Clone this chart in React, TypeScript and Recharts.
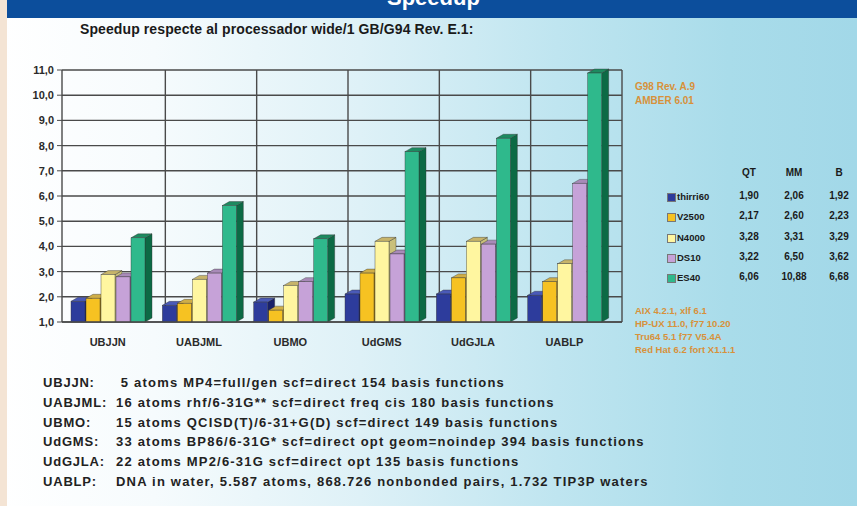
import React from "react";
import { BarChart, Bar, XAxis, YAxis, CartesianGrid } from "recharts";

const categories = ["UBJJN", "UABJML", "UBMO", "UdGMS", "UdGJLA", "UABLP"];
const seriesNames = ["thirri60", "V2500", "N4000", "DS10", "ES40"];
const thirri60 = [1.82, 1.66, 1.79, 2.11, 2.11, 2.06];
const v2500 = [1.94, 1.74, 1.47, 2.94, 2.75, 2.6];
const n4000 = [2.88, 2.69, 2.45, 4.2, 4.2, 3.31];
const ds10 = [2.79, 2.94, 2.6, 3.7, 4.09, 6.5];
const es40 = [4.34, 5.62, 4.3, 7.76, 8.29, 10.88];
const yTicks = [1, 2, 3, 4, 5, 6, 7, 8, 9, 10, 11];

const tableHeaders = ["QT", "MM", "B"];
const qtAvg = ["1,90", "2,17", "3,28", "3,22", "6,06"];
const mmVal = ["2,06", "2,60", "3,31", "6,50", "10,88"];
const bAvg = ["1,92", "2,23", "3,29", "3,62", "6,68"];

const softwareTop = ["G98 Rev. A.9", "AMBER 6.01"];
const platforms = [
  "AIX 4.2.1, xlf 6.1",
  "HP-UX 11.0, f77 10.20",
  "Tru64 5.1 f77 V5.4A",
  "Red Hat 6.2 fort X1.1.1",
];
const testLabels = ["UBJJN:", "UABJML:", "UBMO:", "UdGMS:", "UdGJLA:", "UABLP:"];
const testDescriptions = [
  "\u00a05 atoms MP4=full/gen scf=direct 154 basis functions",
  "16 atoms rhf/6-31G** scf=direct freq cis 180 basis functions",
  "15 atoms QCISD(T)/6-31+G(D) scf=direct 149 basis functions",
  "33 atoms BP86/6-31G* scf=direct opt geom=noindep 394 basis functions",
  "22 atoms MP2/6-31G scf=direct opt 135 basis functions",
  "DNA in water, 5.587 atoms, 868.726 nonbonded pairs, 1.732 TIP3P waters",
];
const title = "Speedup respecte al processador wide/1 GB/G94 Rev. E.1:";
const bannerText = "Speedup";

const palette = [
  { front: "#2d3c9c", side: "#18206a", top: "#4a5ab8" },
  { front: "#f6c222", side: "#b0850c", top: "#cfae48" },
  { front: "#fff6a0", side: "#c9c07a", top: "#c7b46a" },
  { front: "#c6a2d8", side: "#8a6a9e", top: "#a88ab8" },
  { front: "#2fb98c", side: "#0c6a45", top: "#1d8a60" },
];
const seriesData = [thirri60, v2500, n4000, ds10, es40];

const data = categories.map((c, i) => {
  const row: any = { name: c };
  seriesNames.forEach((s, j) => {
    row[s] = seriesData[j][i];
  });
  return row;
});

const DX = 7;
const DY = 4;
const WALL = 12;

const make3D = (c: { front: string; side: string; top: string }) => (props: any) => {
  const { x, y, width, height } = props;
  if (width == null || height == null || height <= 0) return <g />;
  const r = x + width;
  const b = y + height;
  return (
    <g>
      <polygon
        points={`${r},${y} ${r + DX},${y - DY} ${r + DX},${b - DY} ${r},${b}`}
        fill={c.side}
        stroke="#333"
        strokeWidth={0.4}
      />
      <polygon
        points={`${x},${y} ${x + DX},${y - DY} ${r + DX},${y - DY} ${r},${y}`}
        fill={c.top}
        stroke="#333"
        strokeWidth={0.4}
      />
      <rect x={x} y={y} width={width} height={height} fill={c.front} stroke="#333" strokeWidth={0.4} />
    </g>
  );
};

const FONT = "'Liberation Sans', Arial, sans-serif";

export default function App() {
  return (
    <div
      style={{
        position: "absolute",
        left: 0,
        top: 0,
        width: 857,
        height: 506,
        overflow: "hidden",
        fontFamily: FONT,
        background:
          "linear-gradient(to right, #ffffff 0%, #f6fbfd 18%, #def1f7 42%, #bfe5f0 65%, #a9dcea 85%, #a2d8e8 100%)",
      }}
    >
      <div style={{ position: "absolute", left: 0, top: 0, width: 7, height: 506, background: "#f4e4d4" }} />
      <div
        style={{
          position: "absolute",
          left: 7,
          top: 0,
          width: 850,
          height: 18,
          background: "#0c4e9c",
          overflow: "hidden",
        }}
      >
        <div
          style={{
            position: "absolute",
            left: 380,
            top: -15,
            color: "#ffffff",
            fontWeight: 700,
            fontSize: 22,
            whiteSpace: "nowrap",
          }}
        >
          {bannerText}
        </div>
      </div>
      <div
        style={{
          position: "absolute",
          left: 80,
          top: 21,
          fontWeight: 700,
          fontSize: 14,
          letterSpacing: 0.1,
          color: "#1a1a1a",
          whiteSpace: "nowrap",
        }}
      >
        {title}
      </div>

      <div style={{ position: "absolute", left: 0, top: 0 }}>
        <BarChart
          width={640}
          height={350}
          data={data}
          margin={{ top: 70, right: 18, left: 0, bottom: 0 }}
          barSize={14}
          barGap={1}
        >
          <CartesianGrid
            stroke="#4a4a4a"
            strokeWidth={1.4}
            horizontal={true}
            vertical={true}
            verticalCoordinatesGenerator={(p: any) => {
              const o = p && p.offset;
              if (!o) return [];
              const bw = (o.width - WALL) / categories.length;
              return Array.from({ length: categories.length }, (_, i) => o.left + WALL + (i + 1) * bw);
            }}
          />
          <XAxis
            dataKey="name"
            tickLine={false}
            padding={{ left: 0, right: WALL }}
            axisLine={{ stroke: "#4a4a4a", strokeWidth: 1.4 }}
            tickMargin={10}
            height={28}
            tick={{ fill: "#2a2a2a", fontSize: 11, fontWeight: 700, fontFamily: FONT }}
          />
          <YAxis
            domain={[1, 11]}
            ticks={yTicks}
            interval={0}
            width={62}
            tickSize={5}
            tickMargin={3}
            axisLine={{ stroke: "#4a4a4a", strokeWidth: 1.4 }}
            tickLine={{ stroke: "#4a4a4a" }}
            tickFormatter={(v: number) => v.toFixed(1).replace(".", ",")}
            tick={{ fill: "#2a2a2a", fontSize: 11, fontWeight: 700, fontFamily: FONT }}
          />
          {seriesNames.map((s, j) => (
            <Bar key={s} dataKey={s} fill={palette[j].front} shape={make3D(palette[j])} isAnimationActive={false} />
          ))}
        </BarChart>
      </div>

      {softwareTop.map((t, i) => (
        <div
          key={t}
          style={{
            position: "absolute",
            left: 635,
            top: 81 + i * 14,
            fontSize: 10,
            fontWeight: 700,
            color: "#d8913a",
            whiteSpace: "nowrap",
          }}
        >
          {t}
        </div>
      ))}

      {tableHeaders.map((h, k) => (
        <div
          key={h}
          style={{
            position: "absolute",
            left: [736, 781, 826][k],
            width: 26,
            textAlign: "center",
            top: 167,
            fontSize: 10,
            fontWeight: 700,
            color: "#1a1a1a",
          }}
        >
          {h}
        </div>
      ))}
      {seriesNames.map((s, j) => (
        <React.Fragment key={s}>
          <div
            style={{
              position: "absolute",
              left: 667,
              top: 193 + j * 20.3,
              width: 7,
              height: 7,
              background: palette[j].front,
              border: "1px solid #777",
            }}
          />
          <div
            style={{
              position: "absolute",
              left: 677,
              top: 191 + j * 20.3,
              fontSize: 9.5,
              fontWeight: 700,
              color: "#1a1a1a",
              whiteSpace: "nowrap",
            }}
          >
            {s}
          </div>
          {[qtAvg[j], mmVal[j], bAvg[j]].map((v, k) => (
            <div
              key={k}
              style={{
                position: "absolute",
                left: [731, 776, 821][k],
                width: 36,
                textAlign: "center",
                top: 190 + j * 20.3,
                fontSize: 10,
                fontWeight: 700,
                color: "#1a1a1a",
                whiteSpace: "nowrap",
              }}
            >
              {v}
            </div>
          ))}
        </React.Fragment>
      ))}

      {platforms.map((t, i) => (
        <div
          key={t}
          style={{
            position: "absolute",
            left: 635,
            top: 305 + i * 13,
            fontSize: 9.5,
            fontWeight: 700,
            color: "#d8913a",
            whiteSpace: "nowrap",
          }}
        >
          {t}
        </div>
      ))}

      {testLabels.map((l, i) => (
        <React.Fragment key={l}>
          <div
            style={{
              position: "absolute",
              left: 43,
              top: 375 + i * 19.8,
              fontSize: 13,
              letterSpacing: 0.8,
              fontWeight: 700,
              color: "#222",
              whiteSpace: "nowrap",
            }}
          >
            {l}
          </div>
          <div
            style={{
              position: "absolute",
              left: 116,
              top: 375 + i * 19.8,
              fontSize: 13,
              letterSpacing: 1.2,
              fontWeight: 700,
              color: "#222",
              whiteSpace: "nowrap",
            }}
          >
            {testDescriptions[i]}
          </div>
        </React.Fragment>
      ))}
    </div>
  );
}
